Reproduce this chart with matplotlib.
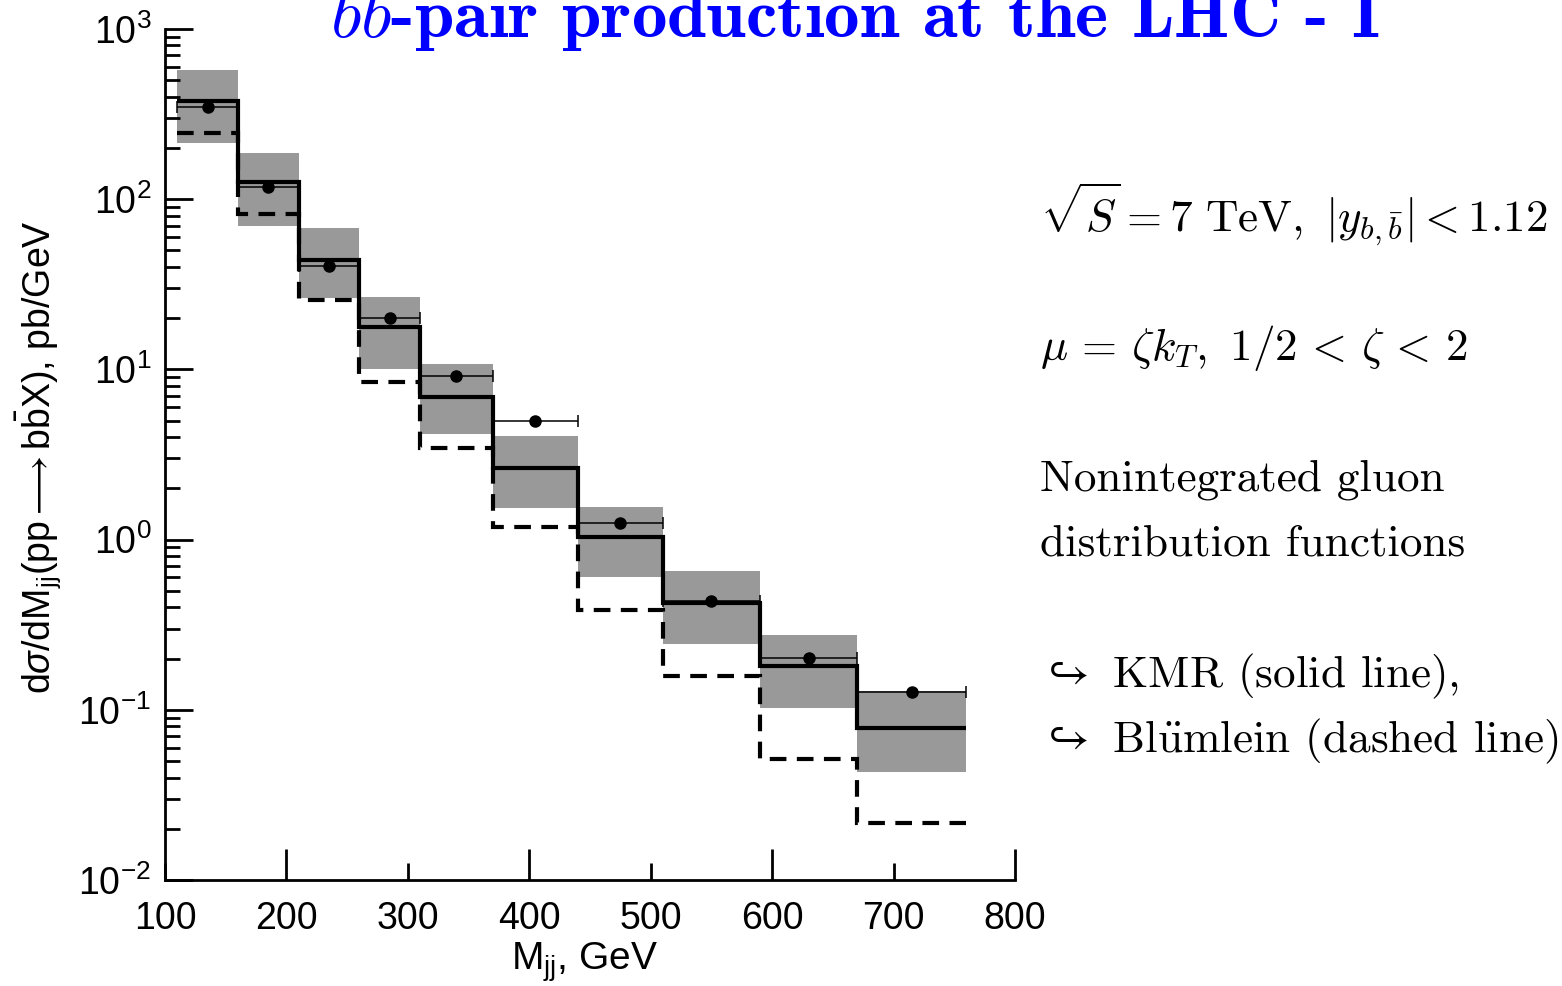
import numpy as np
import matplotlib
matplotlib.use("Agg")
from matplotlib import pyplot as plt
from matplotlib.ticker import LogLocator, NullFormatter

# bin edges in M_jj (GeV)
edges = [110, 160, 210, 260, 310, 370, 440, 510, 590, 670, 760]
# KMR (solid) and Bluemlein (dashed) predictions, pb/GeV
kmr = [377, 126, 44, 17.7, 6.9, 2.65, 1.03, 0.426, 0.18, 0.078]
blumlein = [244, 81.7, 25.5, 8.4, 3.47, 1.18, 0.387, 0.158, 0.0516, 0.0216]
# scale uncertainty band for KMR
band_low = [213, 69.4, 26.2, 10.1, 4.15, 1.54, 0.605, 0.244, 0.103, 0.0432]
band_high = [574, 187, 67.5, 26.5, 10.7, 4.04, 1.56, 0.658, 0.276, 0.129]
# measured points
data_y = [348, 118, 40.4, 20.0, 9.2, 5.0, 1.26, 0.437, 0.202, 0.128]

xticks_major = [200, 400, 600, 800]
xticks_minor = [100, 300, 500, 700]

plt.rcParams["font.family"] = "Liberation Sans"
plt.rcParams["mathtext.fontset"] = "custom"
plt.rcParams["mathtext.rm"] = "Liberation Sans"
plt.rcParams["mathtext.it"] = "Liberation Sans:italic"
plt.rcParams["mathtext.bf"] = "Liberation Sans:bold"
plt.rcParams["axes.unicode_minus"] = False

W, H = 1562, 986
fig = plt.figure(figsize=(W / 100, H / 100), dpi=100)
ax = fig.add_axes([165 / W, 1 - 880 / H, 850 / W, 851 / H])

edges_a = np.array(edges, dtype=float)
widths = np.diff(edges_a)
centers = edges_a[:-1] + widths / 2

ax.bar(edges_a[:-1], np.array(band_high) - np.array(band_low), bottom=band_low,
       width=widths, align="edge", color="#999999", linewidth=0, zorder=1)
ax.errorbar(centers, data_y, xerr=widths / 2, fmt="o", color="black", ms=8,
            elinewidth=1.1, capsize=4, capthick=1.1, zorder=2)
ax.stairs(kmr, edges, baseline=None, color="black", lw=3, zorder=3)
ax.stairs(blumlein, edges, baseline=None, color="black", lw=3,
          linestyle=(0, (4, 2.5)), zorder=3)

ax.set_yscale("log")
ax.set_ylim(1e-2, 1e3)
ax.set_xlim(100, 800)
ax.yaxis.set_minor_locator(LogLocator(base=10, subs=np.arange(2, 10)))
ax.yaxis.set_minor_formatter(NullFormatter())

ax.set_xticks(xticks_major, labels=[str(v) for v in xticks_major])
ax.set_xticks(xticks_minor, labels=[str(v) for v in xticks_minor], minor=True)

for s in ["top", "right"]:
    ax.spines[s].set_visible(False)
for s in ["left", "bottom"]:
    ax.spines[s].set_linewidth(2)

ax.tick_params(axis="both", which="both", direction="in", width=2, labelsize=27,
               top=False, right=False)
ax.tick_params(axis="y", which="major", length=20, pad=10)
ax.tick_params(axis="y", which="minor", length=11)
ax.tick_params(axis="x", which="major", length=22, pad=15)
ax.tick_params(axis="x", which="minor", length=12, pad=15)

fig.text(585 / W, 1 - 962 / H, r"M$_{\rm jj}$, GeV", ha="center", va="center", fontsize=28)
fig.text(38 / W, 1 - 457 / H,
         r"d$\sigma$/dM$_{\rm jj}$(pp$\longrightarrow$b$\bar{\rm b}$X), pb/GeV",
         ha="center", va="center", rotation=90, fontsize=27)

fig.text(330 / W, 1 - 38 / H, r"$b\bar{b}$-pair production at the LHC - I",
         family="cmb10", math_fontfamily="cm", color="blue", fontsize=51,
         ha="left", va="baseline")

x0 = 1040 / W
fig.text(x0, 1 - 232 / H, r"$\sqrt{S} = 7\ \mathrm{TeV},\ |y_{b,\bar{b}}| < 1.12$",
         math_fontfamily="cm", fontsize=32.5, va="baseline", color="black")
fig.text(x0, 1 - 360 / H, r"$\mu\, =\, \zeta k_T,\ 1/2\, <\, \zeta\, <\, 2$",
         math_fontfamily="cm", fontsize=32.5, va="baseline", color="black")
fig.text(x0, 1 - 490 / H, "Nonintegrated gluon", family="cmr10",
         fontsize=32.5, va="baseline", color="black")
fig.text(x0, 1 - 555 / H, "distribution functions", family="cmr10",
         fontsize=32.5, va="baseline", color="black")
fig.text(x0, 1 - 687 / H, r"$\hookrightarrow$ KMR (solid line),", family="cmr10",
         math_fontfamily="cm", fontsize=32.5, va="baseline", color="black")
fig.text(x0, 1 - 752 / H, r"$\hookrightarrow$ Bl$\ddot{\mathrm{u}}$mlein (dashed line)",
         family="cmr10", math_fontfamily="cm", fontsize=32.5, va="baseline", color="black")

fig.savefig("out.png", dpi=100)
